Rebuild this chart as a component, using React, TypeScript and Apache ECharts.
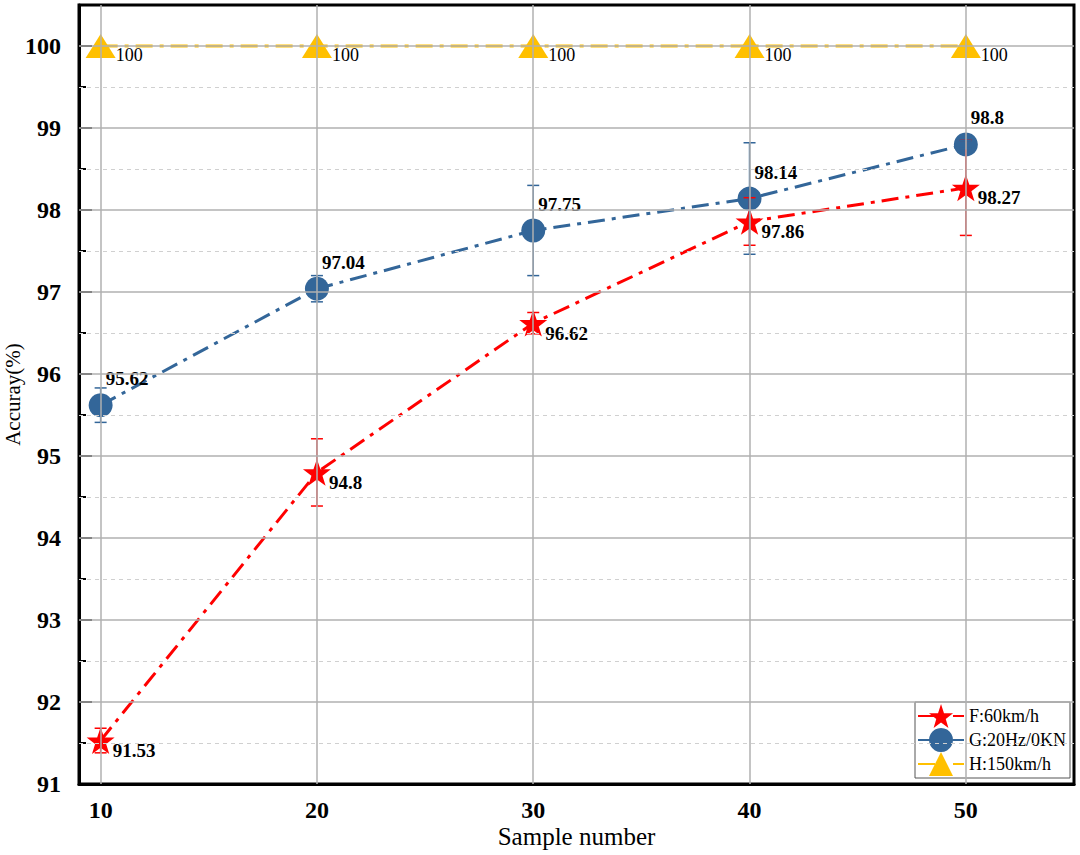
import React, { useEffect, useRef } from "react";
import * as echarts from "echarts";

const sampleNumbers = [10, 20, 30, 40, 50];
const fAcc = [91.53, 94.8, 96.62, 97.86, 98.27];
const fErr = [0.15, 0.41, 0.13, 0.29, 0.58];
const gAcc = [95.62, 97.04, 97.75, 98.14, 98.8];
const gErr = [0.21, 0.16, 0.55, 0.68, 0.05];
const hAcc = [100, 100, 100, 100, 100];
const seriesNames = ["F:60km/h", "G:20Hz/0KN", "H:150km/h"];
const yMajorTicks = [92, 93, 94, 95, 96, 97, 98, 99, 100];
const yMinorTicks = [91.5, 92.5, 93.5, 94.5, 95.5, 96.5, 97.5, 98.5, 99.5];

const FONT = "'Liberation Serif', 'Times New Roman', serif";
const RED = "#FF0000";
const BLUE = "#336699";
const GOLD = "#FFC000";
const DASH = [17, 7, 4, 7];

function errorSeries(vals: number[], errs: number[], color: string) {
  return {
    type: "custom",
    z: 4,
    silent: true,
    data: sampleNumbers.map((x, i) => [x, vals[i] - errs[i], vals[i] + errs[i]]),
    renderItem: (params: any, api: any) => {
      const x = api.value(0);
      const lo = api.coord([x, api.value(1)]);
      const hi = api.coord([x, api.value(2)]);
      const cap = 6;
      const style = { stroke: color, lineWidth: 1.5 };
      return {
        type: "group",
        children: [
          { type: "line", shape: { x1: hi[0], y1: hi[1], x2: lo[0], y2: lo[1] }, style },
          { type: "line", shape: { x1: hi[0] - cap, y1: hi[1], x2: hi[0] + cap, y2: hi[1] }, style },
          { type: "line", shape: { x1: lo[0] - cap, y1: lo[1], x2: lo[0] + cap, y2: lo[1] }, style },
        ],
      };
    },
  };
}

export default function App() {
  const ref = useRef<HTMLDivElement>(null);
  useEffect(() => {
    if (!ref.current) return;
    const chart = echarts.init(ref.current, null, { renderer: "svg" });
    const boldLabel = { fontFamily: FONT, fontSize: 19, fontWeight: "bold", color: "#000" };
    chart.setOption({
      animation: false,
      backgroundColor: "#fff",
      grid: {
        left: 79,
        right: 6,
        top: 5,
        bottom: 71,
        outerBoundsMode: "none",
        containLabel: false,
        show: true,
        borderColor: "#000",
        borderWidth: 3,
        backgroundColor: "transparent",
      },
      legend: {
        data: seriesNames,
        orient: "vertical",
        right: 10,
        bottom: 77,
        backgroundColor: "#fff",
        borderColor: "#555",
        borderWidth: 1,
        borderRadius: 0,
        padding: [2, 4, 2, 2],
        itemGap: 0,
        itemWidth: 46,
        itemHeight: 30,
        textStyle: { fontFamily: FONT, fontSize: 18, color: "#000" },
      },
      xAxis: {
        type: "value",
        min: 9,
        max: 55,
        interval: 1,
        name: "Sample number",
        nameLocation: "middle",
        nameGap: 40,
        nameMoveOverlap: false,
        nameTextStyle: { fontFamily: FONT, fontSize: 25, color: "#000" },
        axisLine: { show: true, lineStyle: { color: "#000", width: 3 } },
        axisTick: { show: false },
        splitLine: { show: false },
        axisLabel: {
          fontFamily: FONT,
          fontSize: 24,
          fontWeight: "bold",
          color: "#000",
          margin: 14,
          formatter: (v: number) => (v % 10 === 0 ? String(v) : ""),
        },
      },
      yAxis: [
        {
          type: "value",
          min: 91,
          max: 100.5,
          interval: 0.5,
          name: "Accuray(%)",
          nameLocation: "middle",
          nameGap: 56,
          nameMoveOverlap: false,
          nameTextStyle: { fontFamily: FONT, fontSize: 21, color: "#000" },
          axisLine: { show: true, lineStyle: { color: "#000", width: 3 } },
          axisTick: { show: true, inside: true, length: 7, lineStyle: { color: "#000", width: 2 } },
          splitLine: { show: false },
          axisLabel: {
            fontFamily: FONT,
            fontSize: 24,
            fontWeight: "bold",
            color: "#000",
            margin: 18,
            formatter: (v: number) => (Number.isInteger(v) ? String(v) : ""),
          },
        },
        {
          type: "value",
          position: "left",
          min: 91,
          max: 100.5,
          interval: 1,
          axisLine: { show: false },
          axisTick: { show: true, inside: true, length: 13, lineStyle: { color: "#000", width: 2 } },
          axisLabel: { show: false },
          splitLine: { show: false },
        },
      ],
      series: [
        {
          type: "line",
          name: "grid",
          data: [],
          z: 1,
          silent: true,
          markLine: {
            silent: true,
            symbol: ["none", "none"],
            label: { show: false },
            animation: false,
            data: [
              ...sampleNumbers.map((x) => ({ xAxis: x, lineStyle: { color: "#b0b0b0", width: 1.5, type: "solid" } })),
              ...yMajorTicks.map((y) => ({ yAxis: y, lineStyle: { color: "#b0b0b0", width: 1.5, type: "solid" } })),
              ...yMinorTicks.map((y) => ({ yAxis: y, lineStyle: { color: "#d0d0d0", width: 1, type: [4, 4] } })),
            ],
          },
        },
        {
          type: "line",
          name: seriesNames[0],
          z: 3,
          data: sampleNumbers.map((x, i) => [x, fAcc[i]]),
          symbol: "path://M50,0 L61.8,35.1 L97.6,35.1 L68.8,56.9 L79.4,91.0 L50,70 L20.6,91.0 L31.2,56.9 L2.4,35.1 L38.2,35.1 Z",
          symbolSize: 28,
          symbolKeepAspect: true,
          itemStyle: { color: RED },
          lineStyle: { color: RED, width: 3, type: DASH },
          label: {
            show: true,
            position: "right",
            distance: 0,
            offset: [-2, 10],
            ...boldLabel,
          },
        },
        {
          type: "line",
          name: seriesNames[1],
          z: 3,
          data: sampleNumbers.map((x, i) => [x, gAcc[i]]),
          symbol: "circle",
          symbolSize: 24,
          itemStyle: { color: BLUE },
          lineStyle: { color: BLUE, width: 3, type: DASH },
          label: {
            show: true,
            position: "top",
            align: "left",
            distance: 5,
            offset: [5, 0],
            ...boldLabel,
          },
        },
        {
          type: "line",
          name: seriesNames[2],
          z: 3,
          data: sampleNumbers.map((x, i) => [x, hAcc[i]]),
          symbol: "triangle",
          symbolSize: [30, 24],
          itemStyle: { color: GOLD },
          lineStyle: { color: GOLD, width: 3, type: DASH },
          label: {
            show: true,
            position: "right",
            distance: 0,
            offset: [0, 9],
            fontFamily: FONT,
            fontSize: 18,
            color: "#000",
          },
        },
        errorSeries(fAcc, fErr, RED),
        errorSeries(gAcc, gErr, BLUE),
      ],
    });
    return () => chart.dispose();
  }, []);
  return <div ref={ref} style={{ position: "fixed", left: 0, top: 0, width: 1080, height: 855 }} />;
}
